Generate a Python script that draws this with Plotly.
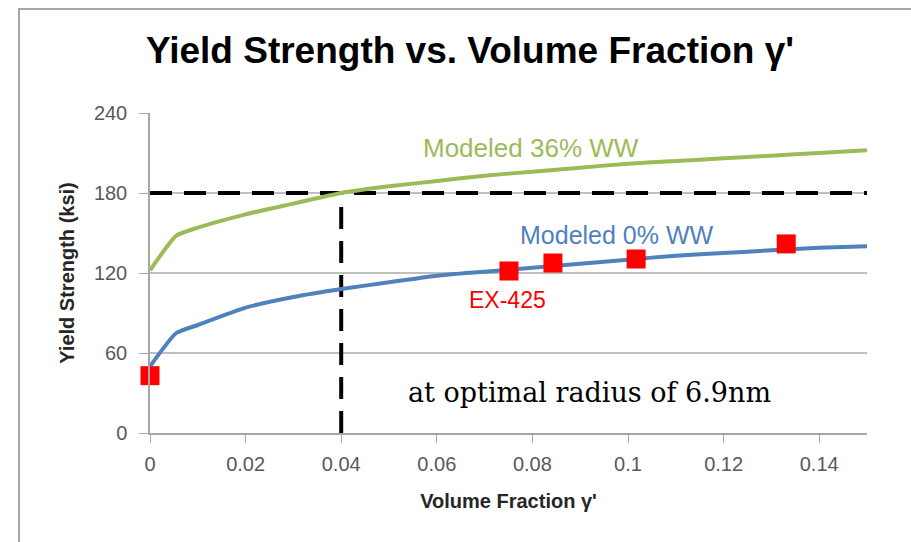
import plotly.graph_objects as go

# --- data ---
frac = [0, 0.0055, 0.01, 0.02, 0.03, 0.04, 0.05, 0.06, 0.07, 0.08, 0.09, 0.10, 0.11, 0.12, 0.13, 0.14, 0.15]
ys_36ww = [122, 148, 154, 164, 172, 180, 185, 189, 193, 196, 199, 202, 204, 206, 208, 210, 212]
ys_0ww = [50, 75, 81, 94, 102, 108, 113, 118, 121, 124, 127, 130, 133, 135, 137, 139, 140]
exp_frac = [0, 0.0751, 0.0843, 0.1017, 0.1331]
exp_ys = [43, 121.5, 127.5, 130.5, 141.8]
target_ys = 180
target_frac = 0.04
x_ticks = [0, 0.02, 0.04, 0.06, 0.08, 0.10, 0.12, 0.14]
x_tick_labels = ["0", "0.02", "0.04", "0.06", "0.08", "0.1", "0.12", "0.14"]
y_ticks = [0, 60, 120, 180, 240]

GREEN = "#9bbb59"
BLUE = "#4f81bd"
RED = "#ff0000"
SANS = "Liberation Sans, Arial, sans-serif"

fig = go.Figure()

# dashed reference lines
fig.add_trace(go.Scatter(x=[0, 0.15], y=[target_ys, target_ys], mode="lines",
                         line=dict(color="black", width=4, dash="22px,12px"),
                         hoverinfo="skip", showlegend=False))
fig.add_trace(go.Scatter(x=[target_frac, target_frac], y=[0, target_ys], mode="lines",
                         line=dict(color="black", width=4, dash="22px,12px"),
                         hoverinfo="skip", showlegend=False))

fig.add_trace(go.Scatter(x=frac, y=ys_36ww, mode="lines", name="Modeled 36% WW",
                         line=dict(color=GREEN, width=4, shape="spline", smoothing=0.5),
                         showlegend=False))
fig.add_trace(go.Scatter(x=frac, y=ys_0ww, mode="lines", name="Modeled 0% WW",
                         line=dict(color=BLUE, width=4, shape="spline", smoothing=0.5),
                         showlegend=False))
fig.add_trace(go.Scatter(x=exp_frac, y=exp_ys, mode="markers", name="EX-425",
                         marker=dict(symbol="square", size=19, color=RED),
                         cliponaxis=False, showlegend=False))

fig.add_annotation(x=0.0797, y=213.8, text="Modeled 36% WW", showarrow=False,
                   font=dict(family=SANS, size=26, color=GREEN))
fig.add_annotation(x=0.0977, y=148.5, text="Modeled 0% WW", showarrow=False,
                   font=dict(family=SANS, size=25, color=BLUE))
fig.add_annotation(x=0.0747, y=99.8, text="EX-425", showarrow=False,
                   font=dict(family=SANS, size=23, color=RED))
fig.add_annotation(x=0.092, y=30.75, text="at optimal radius of 6.9nm", showarrow=False,
                   font=dict(family="DejaVu Serif, Liberation Serif, serif", size=27, color="black"))

# outer frame
fig.add_shape(type="rect", xref="paper", yref="paper",
              x0=(19 - 150) / 717, x1=1.2, y0=-0.5, y1=(433 - 9) / 320,
              line=dict(color="#a6a6a6", width=2), fillcolor="rgba(0,0,0,0)", layer="below")

fig.update_layout(
    width=911, height=542,
    margin=dict(l=150, r=44, t=113, b=109),
    paper_bgcolor="white", plot_bgcolor="white",
    title=dict(text="<b>Yield Strength vs. Volume Fraction γ'</b>", x=470 / 911, xanchor="center",
               y=1 - 50 / 542, yanchor="middle", yref="container",
               font=dict(family=SANS, size=37, color="black")),
    xaxis=dict(range=[0, 0.15], tickvals=x_ticks, ticktext=x_tick_labels,
               showgrid=False, zeroline=False, showline=True, linecolor="#a6a6a6", linewidth=1.5,
               ticks="outside", ticklen=8, tickcolor="#a6a6a6", ticklabelstandoff=4,
               tickfont=dict(family=SANS, size=20, color="#595959"),
               title=dict(text="<b>Volume Fraction γ'</b>", standoff=20,
                          font=dict(family=SANS, size=20, color="#262626"))),
    yaxis=dict(range=[0, 240], tickvals=y_ticks,
               showgrid=True, gridcolor="#bfbfbf", gridwidth=1.5, zeroline=False,
               showline=True, linecolor="#a6a6a6", linewidth=1.5,
               ticks="outside", ticklen=9, tickcolor="#a6a6a6", ticklabelstandoff=8,
               tickfont=dict(family=SANS, size=20, color="#595959"),
               title=dict(text="<b>Yield Strength (ksi)</b>", standoff=14,
                          font=dict(family=SANS, size=20, color="#262626"))),
)

fig.write_html("out.html")
